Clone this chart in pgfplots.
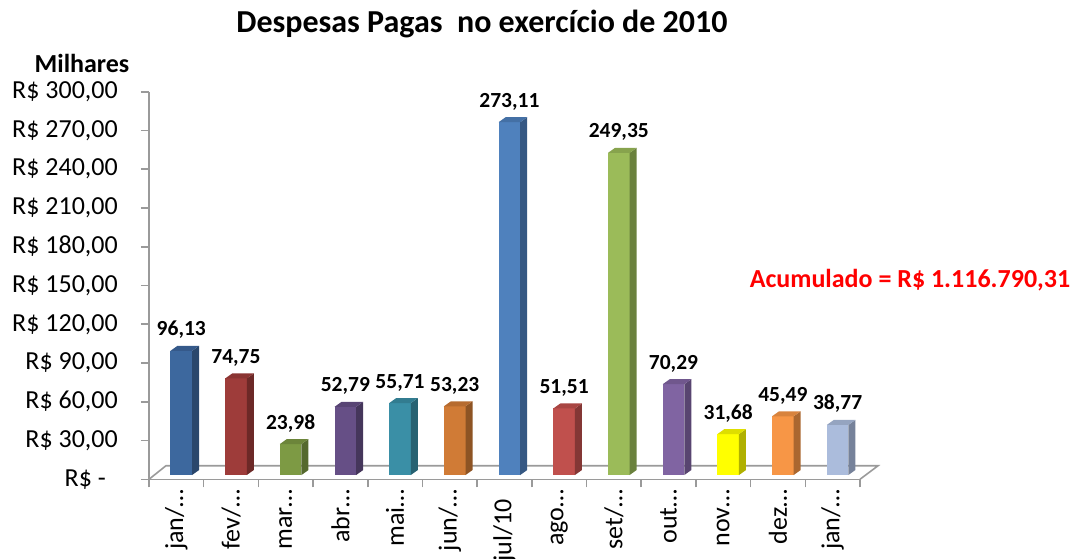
\documentclass[border=0pt]{standalone}
\usepackage{pgfplots}
\pgfplotsset{compat=1.18}
\usepackage{fontspec}
\setmainfont{Carlito}
\definecolor{axgray}{HTML}{9A9A9A}
\definecolor{accred}{HTML}{FF0000}
% front / side / top colours
\definecolor{f0}{HTML}{3D689E}\definecolor{s0}{HTML}{2A476C}\definecolor{t0}{HTML}{35598A}
\definecolor{f1}{HTML}{9E3C3A}\definecolor{s1}{HTML}{6C2927}\definecolor{t1}{HTML}{8A3432}
\definecolor{f2}{HTML}{7D9A44}\definecolor{s2}{HTML}{55692E}\definecolor{t2}{HTML}{6C853A}
\definecolor{f3}{HTML}{664F86}\definecolor{s3}{HTML}{45365B}\definecolor{t3}{HTML}{584474}
\definecolor{f4}{HTML}{3A8FA6}\definecolor{s4}{HTML}{276272}\definecolor{t4}{HTML}{327C90}
\definecolor{f5}{HTML}{D07B36}\definecolor{s5}{HTML}{8E5424}\definecolor{t5}{HTML}{B66B2F}
\definecolor{f6}{HTML}{4F81BD}\definecolor{s6}{HTML}{365883}\definecolor{t6}{HTML}{4470A5}
\definecolor{f7}{HTML}{C0504D}\definecolor{s7}{HTML}{843735}\definecolor{t7}{HTML}{A84542}
\definecolor{f8}{HTML}{9BBB59}\definecolor{s8}{HTML}{6A813D}\definecolor{t8}{HTML}{87A34D}
\definecolor{f9}{HTML}{8064A2}\definecolor{s9}{HTML}{584570}\definecolor{t9}{HTML}{70578D}
\definecolor{f10}{HTML}{FFFF00}\definecolor{s10}{HTML}{B0B000}\definecolor{t10}{HTML}{DEDE00}
\definecolor{f11}{HTML}{F79646}\definecolor{s11}{HTML}{AA6730}\definecolor{t11}{HTML}{D8833D}
\definecolor{f12}{HTML}{ABBCDC}\definecolor{s12}{HTML}{76829A}\definecolor{t12}{HTML}{95A4C0}
\tikzset{lbl/.style={font=\bfseries\fontsize{21.5}{24}\selectfont, anchor=base, yshift=15pt, inner sep=0pt}}

\newcommand\tdbar[3]{% #1 index, #2 value, #3 label
 \pgfmathsetmacro\tbXl{#1+0.09-0.1975}%
 \pgfmathsetmacro\tbXr{#1+0.09+0.1975}%
 \pgfmathsetmacro\tbXrr{\tbXr+0.128}%
 \pgfmathsetmacro\tbXlr{\tbXl+0.128}%
 \pgfmathsetmacro\tbYb{3.3}%
 \pgfmathsetmacro\tbYbb{3.3+3.87}%
 \pgfmathsetmacro\tbYt{#2+3.3}%
 \pgfmathsetmacro\tbYtt{#2+3.3+3.87}%
 \pgfmathsetmacro\tbXc{#1+0.09}%
 \edef\doit{%
  \noexpand\addplot[fill=f#1, draw=none] coordinates {(\tbXl,\tbYb) (\tbXr,\tbYb) (\tbXr,\tbYt) (\tbXl,\tbYt)} -- cycle;
  \noexpand\addplot[fill=s#1, draw=none] coordinates {(\tbXr,\tbYb) (\tbXrr,\tbYbb) (\tbXrr,\tbYtt) (\tbXr,\tbYt)} -- cycle;
  \noexpand\addplot[fill=t#1, draw=none] coordinates {(\tbXl,\tbYt) (\tbXlr,\tbYtt) (\tbXrr,\tbYtt) (\tbXr,\tbYt)} -- cycle;
  \noexpand\node[lbl] at (axis cs:\tbXc,\tbYt) {#3};
 }\doit
}

\begin{document}
\begin{tikzpicture}
\useasboundingbox (0pt,0pt) rectangle (1077pt,558pt);
\begin{axis}[
  at={(149pt,78.7pt)}, anchor=south west,
  scale only axis, width=711pt, height=387.6pt,
  xmin=-0.5, xmax=12.5, ymin=0, ymax=300,
  clip=false,
  axis x line=bottom, axis y line=left,
  axis line style={-, draw=axgray, line width=1.6pt},
  ytick={0,30,...,300},
  yticklabels={{R\$ -\hspace*{12pt}},{R\$ 30,00},{R\$ 60,00},{R\$ 90,00},{R\$ 120,00},{R\$ 150,00},{R\$ 180,00},{R\$ 210,00},{R\$ 240,00},{R\$ 270,00},{R\$ 300,00}},
  yticklabel style={font=\fontsize{26}{28}\selectfont, anchor=east, inner sep=0pt, xshift=-23pt},
  ytick style={draw=axgray, line width=1.6pt},
  major tick length=8pt, minor tick length=8pt,
  tick align=outside,
  xtick={0,...,12},
  xticklabels={jan/…,fev/…,mar…,abr…,mai…,jun/…,{jul/10\hspace*{10pt}},ago…,set/…,out…,nov…,dez…,jan/…},
  xticklabel style={font=\fontsize{26}{28}\selectfont, rotate=90, anchor=east, inner sep=0pt, xshift=-2pt},
  major x tick style={draw=none},
  minor xtick={-0.5,0.5,...,12.5},
  minor x tick style={draw=axgray, line width=1.6pt},
]
\draw[axgray, line width=1.6pt] (axis cs:-0.5,0) -- (axis cs:-0.19,10.5) -- (axis cs:12.83,10.5) -- (axis cs:12.5,0);
\tdbar{0}{96.13}{96,13}
\tdbar{1}{74.75}{74,75}
\tdbar{2}{23.98}{23,98}
\tdbar{3}{52.79}{52,79}
\tdbar{4}{55.71}{55,71}
\tdbar{5}{53.23}{53,23}
\tdbar{6}{273.11}{273,11}
\tdbar{7}{51.51}{51,51}
\tdbar{8}{249.35}{249,35}
\tdbar{9}{70.29}{70,29}
\tdbar{10}{31.68}{31,68}
\tdbar{11}{45.49}{45,49}
\tdbar{12}{38.77}{38,77}
\end{axis}
\node[font=\bfseries\fontsize{32}{35}\selectfont, anchor=base] at (482pt,525pt) {Despesas Pagas\ \ no exercício de 2010};
\node[font=\bfseries\fontsize{26}{28}\selectfont, anchor=base] at (82pt,485pt) {Milhares};
\node[font=\bfseries\fontsize{26}{28}\selectfont, anchor=base, text=accred] at (910pt,270pt) {Acumulado = R\$ 1.116.790,31};
\end{tikzpicture}
\end{document}
